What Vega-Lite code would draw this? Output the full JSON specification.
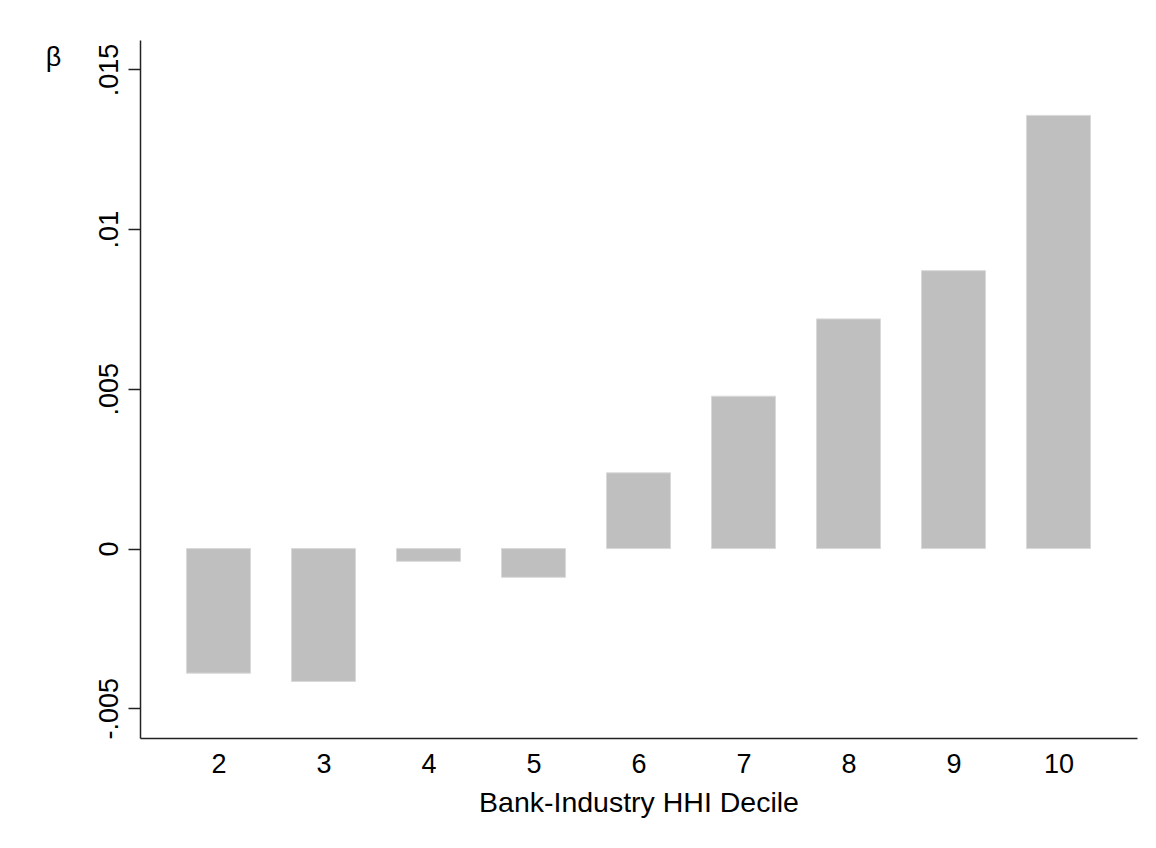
{
  "$schema": "https://vega.github.io/schema/vega-lite/v6.json",
  "autosize": {"type": "none"},
  "padding": {"left": 140, "top": 40, "right": 19, "bottom": 110},
  "width": 997,
  "height": 698,
  "background": "white",
  "config": {
    "view": {"stroke": null},
    "font": "Liberation Sans"
  },
  "data": {
    "values": [
      {"decile": 2, "beta": -0.0039},
      {"decile": 3, "beta": -0.00416},
      {"decile": 4, "beta": -0.0004},
      {"decile": 5, "beta": -0.0009},
      {"decile": 6, "beta": 0.00237},
      {"decile": 7, "beta": 0.00477},
      {"decile": 8, "beta": 0.00719},
      {"decile": 9, "beta": 0.0087},
      {"decile": 10, "beta": 0.01356}
    ]
  },
  "mark": {"type": "bar", "width": 64, "fill": "#bfbfbf", "stroke": "#d9d9d9", "strokeWidth": 1},
  "encoding": {
    "x": {
      "field": "decile",
      "type": "quantitative",
      "scale": {"domain": [1.3, 10.7], "nice": false, "zero": false},
      "axis": {
        "title": "Bank-Industry HHI Decile",
        "values": [2, 3, 4, 5, 6, 7, 8, 9, 10],
        "format": "d",
        "grid": false,
        "ticks": false,
        "domainColor": "#222222",
        "domainWidth": 1.5,
        "labelFontSize": 27,
        "labelColor": "black",
        "labelPadding": 13,
        "labelBaseline": "top",
        "labelFlush": false,
        "labelOverlap": false,
        "titleFontSize": 28.5,
        "titleFontWeight": "normal",
        "titleColor": "black",
        "titleBaseline": "alphabetic",
        "titleY": 73
      }
    },
    "y": {
      "field": "beta",
      "type": "quantitative",
      "scale": {"domain": [-0.00593, 0.01592], "nice": false, "zero": false},
      "axis": {
        "title": "β",
        "titleAngle": 0,
        "titleX": -87,
        "titleY": 25,
        "titleAlign": "center",
        "titleBaseline": "alphabetic",
        "titleFontSize": 27,
        "titleFontWeight": "normal",
        "titleColor": "black",
        "values": [-0.005, 0, 0.005, 0.01, 0.015],
        "labelExpr": "datum.value == 0 ? '0' : (datum.value < 0 ? '-' : '') + replace(format(abs(datum.value), '.3~f'), '0.', '.')",
        "grid": false,
        "tickSize": 12,
        "tickWidth": 1.5,
        "tickColor": "#222222",
        "domainColor": "#222222",
        "domainWidth": 1.5,
        "labelAngle": -90,
        "labelAlign": "center",
        "labelBaseline": "alphabetic",
        "labelPadding": 11,
        "labelFontSize": 27,
        "labelColor": "black",
        "labelFlush": false,
        "labelOverlap": false
      }
    },
    "y2": {"datum": 0}
  }
}
